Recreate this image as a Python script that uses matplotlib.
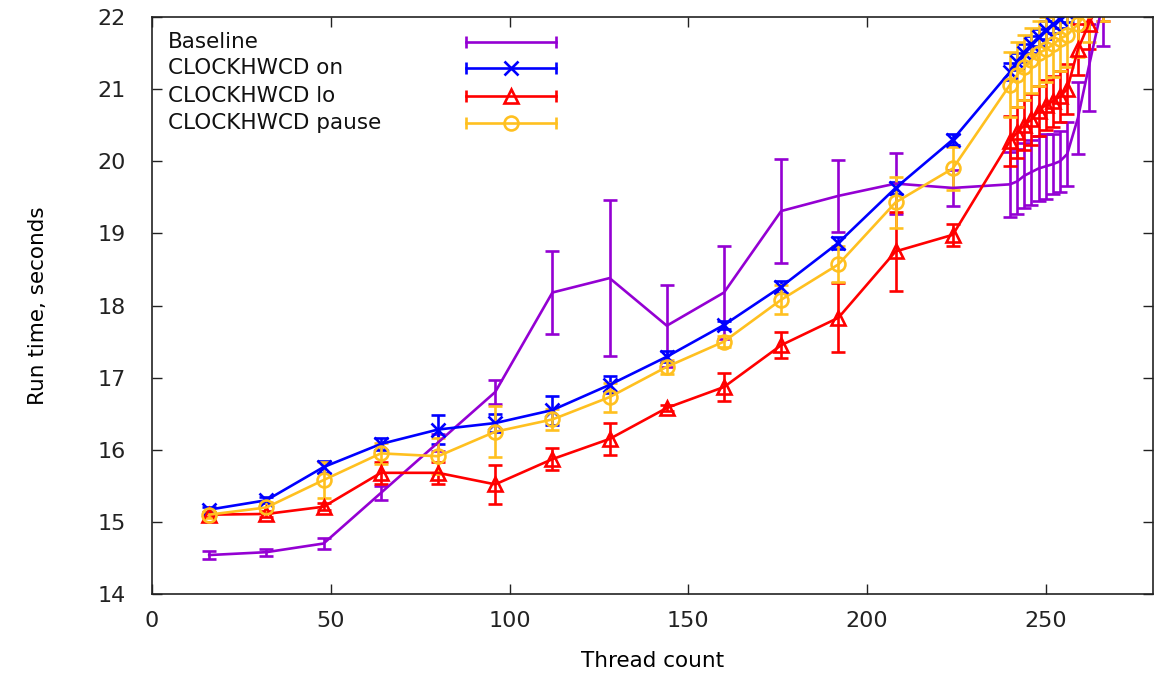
#!/usr/bin/env python3
import matplotlib
matplotlib.use('Agg')
from matplotlib import pyplot as plt

threads = [16, 32, 48, 64, 80, 96, 112, 128, 144, 160, 176, 192, 208, 224,
           240, 242, 244, 246, 248, 250, 252, 254, 256, 259, 262, 266]

baseline = [14.54, 14.58, 14.70, 15.40, 16.10, 16.80, 18.18, 18.38, 17.72, 18.18,
            19.31, 19.52, 19.69, 19.63,
            19.68, 19.72, 19.80, 19.85, 19.90, 19.93, 19.96, 20.00, 20.10, 20.60, 21.30, 22.20]
baseline_err = [0.05, 0.05, 0.07, 0.10, 0.12, 0.17, 0.57, 1.08, 0.57, 0.65,
                0.72, 0.50, 0.42, 0.25,
                0.45, 0.45, 0.45, 0.45, 0.45, 0.45, 0.42, 0.42, 0.45, 0.50, 0.60, 0.60]

clk_on = [15.17, 15.30, 15.76, 16.08, 16.28, 16.37, 16.55, 16.90, 17.29, 17.73,
          18.26, 18.87, 19.63, 20.30,
          21.24, 21.38, 21.50, 21.62, 21.72, 21.82, 21.90, 21.97, 22.05, 22.30, 22.50, 22.80]
clk_on_err = [0.04, 0.04, 0.08, 0.08, 0.20, 0.12, 0.20, 0.12, 0.08, 0.06,
              0.08, 0.08, 0.08, 0.08,
              0.12, 0.12, 0.12, 0.12, 0.12, 0.12, 0.12, 0.12, 0.12, 0.12, 0.12, 0.12]

clk_lo = [15.10, 15.11, 15.21, 15.68, 15.68, 15.52, 15.87, 16.15, 16.58, 16.87,
          17.45, 17.83, 18.75, 18.98,
          20.28, 20.40, 20.50, 20.58, 20.70, 20.78, 20.83, 20.90, 21.00, 21.55, 21.90, 22.30]
clk_lo_err = [0.03, 0.04, 0.05, 0.15, 0.15, 0.27, 0.15, 0.22, 0.04, 0.20,
              0.18, 0.48, 0.55, 0.15,
              0.35, 0.35, 0.35, 0.35, 0.35, 0.35, 0.35, 0.35, 0.35, 0.35, 0.35, 0.35]

clk_pause = [15.10, 15.20, 15.58, 15.95, 15.91, 16.25, 16.42, 16.73, 17.15, 17.50,
             18.08, 18.57, 19.43, 19.90,
             21.06, 21.20, 21.30, 21.40, 21.50, 21.55, 21.62, 21.70, 21.75, 21.90, 22.10, 22.40]
clk_pause_err = [0.04, 0.08, 0.25, 0.15, 0.25, 0.35, 0.15, 0.20, 0.10, 0.08,
                 0.20, 0.25, 0.35, 0.30,
                 0.45, 0.45, 0.45, 0.45, 0.45, 0.45, 0.45, 0.45, 0.45, 0.45, 0.45, 0.45]

labels = ['Baseline', 'CLOCKHWCD on', 'CLOCKHWCD lo', 'CLOCKHWCD pause']

fig = plt.figure(figsize=(11.68, 6.75), dpi=100)
ax = fig.add_axes([152 / 1168, 81 / 675, 1001 / 1168, 577 / 675])

series = [
    (baseline, baseline_err, '#9400d3', 'None'),
    (clk_on, clk_on_err, '#0000ff', 'x'),
    (clk_lo, clk_lo_err, '#ff0000', '^'),
    (clk_pause, clk_pause_err, '#ffc020', 'o'),
]

lw = 1.9
for y, err, color, mk in series:
    ax.errorbar(threads, y, yerr=err, color=color, lw=lw, elinewidth=lw,
                capsize=5, capthick=lw, marker=mk, markersize=10,
                markerfacecolor='none', markeredgewidth=lw)

# gnuplot style key, drawn by hand: text on the left, sample on the right
key_rows = [0.9567, 0.9116, 0.8631, 0.8163]
for (y, err, color, mk), label, ky in zip(series, labels, key_rows):
    ax.text(0.016, ky, label, transform=ax.transAxes, fontsize=15.5,
            va='center', ha='left', color='#111111')
    ax.plot([0.3137, 0.4036], [ky, ky], transform=ax.transAxes, color=color,
            lw=lw, marker='|', markersize=8, markeredgewidth=lw, clip_on=False)
    ax.plot([0.3586], [ky], transform=ax.transAxes, color=color, lw=0,
            marker=mk, markersize=10, markerfacecolor='none',
            markeredgewidth=lw, clip_on=False)

ax.set_xlim(0, 280)
ax.set_ylim(14, 22)
ax.set_xticks(range(0, 251, 50))
ax.set_yticks(range(14, 23))
ax.tick_params(direction='in', top=True, right=True, length=7, width=1,
               labelsize=16, colors='#222222')
ax.tick_params(axis='x', pad=12)
ax.tick_params(axis='y', pad=19)
for s in ax.spines.values():
    s.set_linewidth(1.2)
    s.set_color('#222222')

ax.set_xlabel('Thread count', fontsize=15.5)
ax.xaxis.set_label_coords(0.5, -0.098)
ax.set_ylabel('Run time, seconds', fontsize=15.5)
ax.yaxis.set_label_coords(-0.104, 0.5)

fig.savefig('out.png', dpi=100)
